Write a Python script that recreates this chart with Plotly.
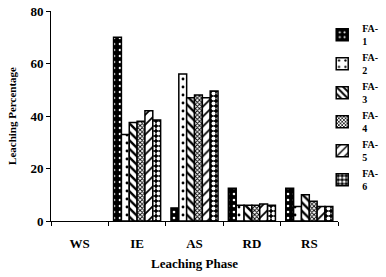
import plotly.graph_objects as go

phases = ["WS", "IE", "AS", "RD", "RS"]
series_names = ["FA-1", "FA-2", "FA-3", "FA-4", "FA-5", "FA-6"]
fa1 = [0, 70, 5, 12.5, 12.5]
fa2 = [0, 33, 56, 6, 5.5]
fa3 = [0, 37.5, 47, 6, 10]
fa4 = [0, 38, 48, 6, 7.5]
fa5 = [0, 42, 47, 6.5, 5.5]
fa6 = [0, 38.5, 49.5, 6, 5.5]
values = [fa1, fa2, fa3, fa4, fa5, fa6]
y_ticks = [0, 20, 40, 60, 80]

styles = [
    dict(bg="black", fg="white", shape=".", size=6, sol=0.15),
    dict(bg="white", fg="black", shape=".", size=8, sol=0.1),
    dict(bg="white", fg="black", shape="\\", size=6, sol=0.4),
    dict(bg="white", fg="black", shape="x", size=3, sol=0.5),
    dict(bg="white", fg="black", shape="/", size=7, sol=0.25),
    dict(bg="black", fg="white", shape=".", size=5, sol=0.5),
]

fig = go.Figure()
for name, vals, st in zip(series_names, values, styles):
    label = "<b>" + name.replace("-", "-<br>") + "</b>"
    # feed points starting from a non-zero one so the legend swatch keeps its outline
    xs = phases[1:] + phases[:1]
    ys = vals[1:] + vals[:1]
    widths = [1.5 if v else 0 for v in ys]
    fig.add_trace(go.Bar(
        x=xs, y=ys, name=label,
        marker=dict(color=st["bg"], line=dict(color="black", width=widths),
                    pattern=dict(shape=st["shape"], fgcolor=st["fg"], bgcolor=st["bg"],
                                 size=st["size"], solidity=st["sol"], fillmode="replace")),
    ))

fig.update_layout(
    width=386, height=277,
    margin=dict(l=51, r=48, t=11, b=56, autoexpand=False),
    paper_bgcolor="white", plot_bgcolor="white",
    barmode="group", bargap=0.18, bargroupgap=0,
    font=dict(family="Liberation Serif", size=12, color="black"),
    showlegend=True,
    legend=dict(x=0.945, y=0.98, xanchor="left", yanchor="top", bgcolor="rgba(0,0,0,0)",
                font=dict(family="Liberation Serif", size=10, color="black"),
                tracegroupgap=0, itemwidth=30),
    xaxis=dict(showline=True, linecolor="black", linewidth=1, ticks="outside", tickson="boundaries",
               ticklen=4, tickcolor="black", showgrid=False, ticklabelstandoff=10,
               categoryorder="array", categoryarray=phases,
               tickvals=phases, ticktext=["<b>%s</b>" % p for p in phases],
               tickfont=dict(family="Liberation Serif", size=13, color="black"),
               title=dict(text="<b>Leaching Phase</b>", font=dict(size=13, family="Liberation Serif"), standoff=9)),
    yaxis=dict(range=[0, 80], tickvals=y_ticks, ticktext=["<b>%d</b>" % v for v in y_ticks],
               showline=True, linecolor="black", linewidth=1,
               ticks="outside", ticklen=4, tickcolor="black", showgrid=False, zeroline=False,
               tickfont=dict(family="Liberation Serif", size=13, color="black"),
               title=dict(text="<b>Leaching Percentage</b>", font=dict(size=11, family="Liberation Serif"), standoff=11)),
)
fig.write_html("out.html", config={"displayModeBar": False},
               post_script="document.body.style.margin='0';document.body.style.padding='0';")
